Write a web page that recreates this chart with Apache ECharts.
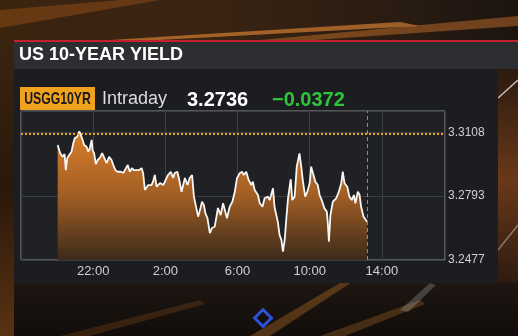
<!DOCTYPE html>
<html>
<head>
<meta charset="utf-8">
<script src="https://cdn.jsdelivr.net/npm/echarts@6/dist/echarts.min.js"></script>
<style>
html,body{margin:0;padding:0;background:#17110d;}
#c{width:518px;height:336px;}
</style>
</head>
<body>
<div id="c"></div>
<script>
// ---- DATA ----
const title = 'US 10-YEAR YIELD';
const ticker = 'USGG10YR';
const period = 'Intraday';
const lastPrice = '3.2736';
const netChange = '\u22120.0372';
const prevClose = 3.3108;

const times = [
  '20:02','20:10','20:18','20:25','20:29','20:34','20:40','20:48','20:54','20:59',
  '21:07','21:14','21:19','21:25','21:30','21:38','21:44','21:49','21:55','21:58',
  '22:03','22:09','22:15','22:22','22:30','22:37','22:45','22:53','23:01','23:07',
  '23:14','23:21','23:26','23:32','23:40','23:49','23:55','00:02','00:09','00:15',
  '00:22','00:33','00:41','00:46','00:52','01:03','01:14','01:19','01:25','01:31',
  '01:42','01:53','01:58','02:09','02:18','02:26','02:31','02:40','02:45','02:54',
  '03:05','03:14','03:21','03:29','03:35','03:43','03:49','03:57','04:02','04:08',
  '04:13','04:20','04:28','04:35','04:44','04:50','04:55','05:04','05:12','05:17',
  '05:25','05:34','05:43','05:51','05:58','06:07','06:15','06:21','06:29','06:37',
  '06:46','06:51','06:57','07:03','07:08','07:14','07:23','07:30','07:36','07:41',
  '07:47','07:52','07:58','08:03','08:09','08:14','08:20','08:26','08:31','08:37',
  '08:42','08:48','08:53','08:57','09:02','09:10','09:17','09:26','09:32','09:37',
  '09:45','09:52','10:00','10:05','10:11','10:19','10:27','10:33','10:40','10:49',
  '10:57','11:00','11:04','11:09','11:17','11:28','11:37','11:45','11:50','11:56',
  '12:05','12:12','12:20','12:27','12:32','12:40','12:46','12:51','12:59','13:05',
  '13:11'
];
const yields = [
  3.3045,3.3005,3.2987,3.3000,3.2921,3.2981,3.2995,3.3012,3.3055,3.3079,
  3.3086,3.3112,3.3094,3.3070,3.3045,3.3036,3.3012,3.3030,3.3070,3.3020,
  3.3005,3.2951,3.2971,3.2981,3.3005,3.2982,3.2956,3.2987,3.2971,3.2946,
  3.2921,3.2913,3.2907,3.2913,3.2907,3.2931,3.2946,3.2913,3.2931,3.2921,
  3.2921,3.2921,3.2931,3.2907,3.2823,3.2847,3.2847,3.2864,3.2897,3.2839,
  3.2857,3.2847,3.2839,3.2897,3.2913,3.2882,3.2907,3.2913,3.2882,3.2814,
  3.2882,3.2847,3.2882,3.2897,3.2790,3.2734,3.2691,3.2734,3.2765,3.2749,
  3.2709,3.2684,3.2610,3.2635,3.2641,3.2691,3.2734,3.2699,3.2758,3.2749,
  3.2683,3.2740,3.2765,3.2814,3.2880,3.2905,3.2913,3.2897,3.2913,3.2872,
  3.2847,3.2864,3.2823,3.2831,3.2798,3.2757,3.2740,3.2782,3.2773,3.2790,
  3.2773,3.2782,3.2831,3.2740,3.2699,3.2666,3.2600,3.2576,3.2518,3.2576,
  3.2675,3.2782,3.2790,3.2876,3.2773,3.2790,3.2938,3.3004,3.2938,3.2872,
  3.2790,3.2814,3.2856,3.2938,3.2905,3.2864,3.2847,3.2798,3.2773,3.2732,
  3.2716,3.2666,3.2567,3.2699,3.2765,3.2782,3.2814,3.2856,3.2913,3.2856,
  3.2839,3.2790,3.2773,3.2798,3.2757,3.2814,3.2798,3.2740,3.2691,3.2683,
  3.2666
];
const xTickLabels = ['22:00','2:00','6:00','10:00','14:00'];
const yTickLabels = ['3.2477','3.2793','3.3108'];

// session starts 18:00 -> minutes since session start
function toMin(t){
  const p = t.split(':');
  let m = (+p[0])*60 + (+p[1]) - 18*60;
  if (m < 0) m += 1440;
  return m;
}
const seriesData = times.map((t,i)=>[toMin(t), yields[i]]);
const lastX = toMin(times[times.length-1]);

const yMin = 3.2477, yMax = 3.3213, yStep = 0.03155;

const chart = echarts.init(document.getElementById('c'), null, {renderer:'canvas'});
const FONT = '"Liberation Sans", Arial, sans-serif';

chart.setOption({
  backgroundColor: '#17110d',
  animation: false,
  graphic: [
    // background decorations
    {type:'rect', z:-10, shape:{x:0,y:0,width:518,height:41},
      style:{fill:new echarts.graphic.LinearGradient(0,0,1,0,[
        {offset:0,color:'#3a2410'},{offset:0.4,color:'#3a2412'},{offset:0.75,color:'#2a1c12'},{offset:1,color:'#1c1410'}])}},
    {type:'polygon', z:-9, shape:{points:[[110,40],[400,22],[420,26],[140,41]]},
      style:{fill:'rgba(235,140,55,0.6)'}},
    {type:'polygon', z:-9, shape:{points:[[250,41],[518,16],[518,26],[300,41]]},
      style:{fill:'rgba(210,120,45,0.45)'}},
    {type:'polygon', z:-9, shape:{points:[[0,10],[120,0],[160,0],[0,28]]},
      style:{fill:'rgba(170,90,25,0.4)'}},
    {type:'rect', z:-10, shape:{x:0,y:41,width:14,height:295},
      style:{fill:new echarts.graphic.LinearGradient(0,0,0,1,[
        {offset:0,color:'#3a2410'},{offset:0.5,color:'#2a180a'},{offset:1,color:'#5a3212'}])}},
    {type:'rect', z:-10, shape:{x:498,y:69,width:20,height:220},
      style:{fill:new echarts.graphic.LinearGradient(0,0,0,1,[
        {offset:0,color:'#2a1a10'},{offset:0.5,color:'#6a3818'},{offset:1,color:'#2a1a10'}])}},
    {type:'line', z:-9, shape:{x1:498,y1:98,x2:518,y2:80}, style:{stroke:'rgba(230,230,230,0.8)',lineWidth:1.5}},
    {type:'line', z:-9, shape:{x1:498,y1:250,x2:518,y2:225}, style:{stroke:'rgba(200,200,200,0.5)',lineWidth:1.5}},
    {type:'rect', z:-10, shape:{x:14,y:283,width:504,height:53},
      style:{fill:new echarts.graphic.LinearGradient(0,0,0,1,[
        {offset:0,color:'#1d1612'},{offset:1,color:'#120d0a'}])}},
    {type:'polygon', z:-9, shape:{points:[[250,336],[345,280],[352,282],[270,336]]},
      style:{fill:'rgba(200,120,40,0.35)'}},
    {type:'polygon', z:-9, shape:{points:[[60,336],[200,300],[205,304],[90,336]]},
      style:{fill:'rgba(160,90,30,0.25)'}},
    {type:'polygon', z:-9, shape:{points:[[320,336],[420,300],[425,304],[345,336]]},
      style:{fill:'rgba(180,120,40,0.3)'}},
    {type:'polygon', z:-9, shape:{points:[[400,310],[430,283],[436,285],[408,312]]},
      style:{fill:'rgba(200,200,200,0.25)'}},
    {type:'rect', z:-8, x:263, y:318, rotation:Math.PI/4, shape:{x:-6,y:-6,width:12,height:12},
      style:{fill:'none',stroke:'#2c50d8',lineWidth:3}},
    // panel
    {type:'rect', z:-5, shape:{x:14,y:40,width:504,height:2}, style:{fill:'#c3202b'}},
    {type:'rect', z:-5, shape:{x:14,y:42,width:504,height:27}, style:{fill:'#2c2e32'}},
    {type:'rect', z:-5, shape:{x:14,y:69,width:484,height:214}, style:{fill:'#1b1d20'}},
    {type:'rect', z:-4, shape:{x:21,y:111,width:424,height:149}, style:{fill:'#1f2124'}},
    {type:'text', z:5, x:19, y:55, style:{text:title, fill:'#ffffff', font:'bold 18px '+FONT, textVerticalAlign:'middle'}},
    {type:'rect', z:5, shape:{x:20,y:87,width:75,height:23}, style:{fill:'#f0a21e'}},
    {type:'text', z:6, x:57.5, y:99, scaleX:0.72, style:{text:ticker, fill:'#1a1a1a', font:'bold 17px '+FONT, textAlign:'center', textVerticalAlign:'middle'}},
    {type:'text', z:5, x:102, y:99, style:{text:period, fill:'#dcdcdc', font:'18px '+FONT, textVerticalAlign:'middle'}},
    {type:'text', z:5, x:187, y:100, style:{text:lastPrice, fill:'#ffffff', font:'bold 20px '+FONT, textVerticalAlign:'middle'}},
    {type:'text', z:5, x:272, y:100, style:{text:netChange, fill:'#2fc53a', font:'bold 20px '+FONT, textVerticalAlign:'middle'}}
  ],
  grid: {left:21, right:73, top:111, bottom:76, show:true, borderColor:'#8c8f93', borderWidth:1, backgroundColor:'transparent'},
  xAxis: {
    type:'value', min:0, max:1410, interval:240,
    axisLine:{show:false}, axisTick:{show:false},
    splitLine:{show:true, lineStyle:{color:'#3b3e43', width:1}},
    axisLabel:{color:'#cfcfcf', fontSize:13, fontFamily:FONT, margin:5,
      formatter:function(v){ const i = Math.round(v/240)-1; return (v%240===0 && i>=0 && i<xTickLabels.length) ? xTickLabels[i] : ''; }}
  },
  yAxis: {
    type:'value', position:'right', min:yMin, max:yMax, interval:yStep,
    axisLine:{show:false}, axisTick:{show:false},
    splitLine:{show:true, lineStyle:{color:'#3b3e43', width:1}},
    axisLabel:{color:'#cfcfcf', fontSize:12, fontFamily:FONT, margin:3,
      formatter:function(v){
        let best='', bd=1e9;
        yTickLabels.forEach(function(s){ const d=Math.abs(parseFloat(s)-v); if(d<bd){bd=d;best=s;} });
        return bd < 0.0005 ? best : '';
      }}
  },
  series: [{
    type:'line', data:seriesData, showSymbol:false, smooth:false,
    lineStyle:{color:'#f7f7f7', width:1.8},
    areaStyle:{opacity:1, color:new echarts.graphic.LinearGradient(0,0,0,1,[
      {offset:0,color:'#d97e2a'},{offset:0.5,color:'#a15e24'},{offset:1,color:'#3c2a1a'}])},
    markLine:{
      silent:true, symbol:'none', label:{show:false},
      data:[
        {yAxis:prevClose, lineStyle:{color:'#e8a51c', type:[2,2], width:2}},
        {xAxis:lastX, lineStyle:{color:'#8a8c90', type:[4,3], width:1}}
      ]
    }
  }]
});
</script>
</body>
</html>
